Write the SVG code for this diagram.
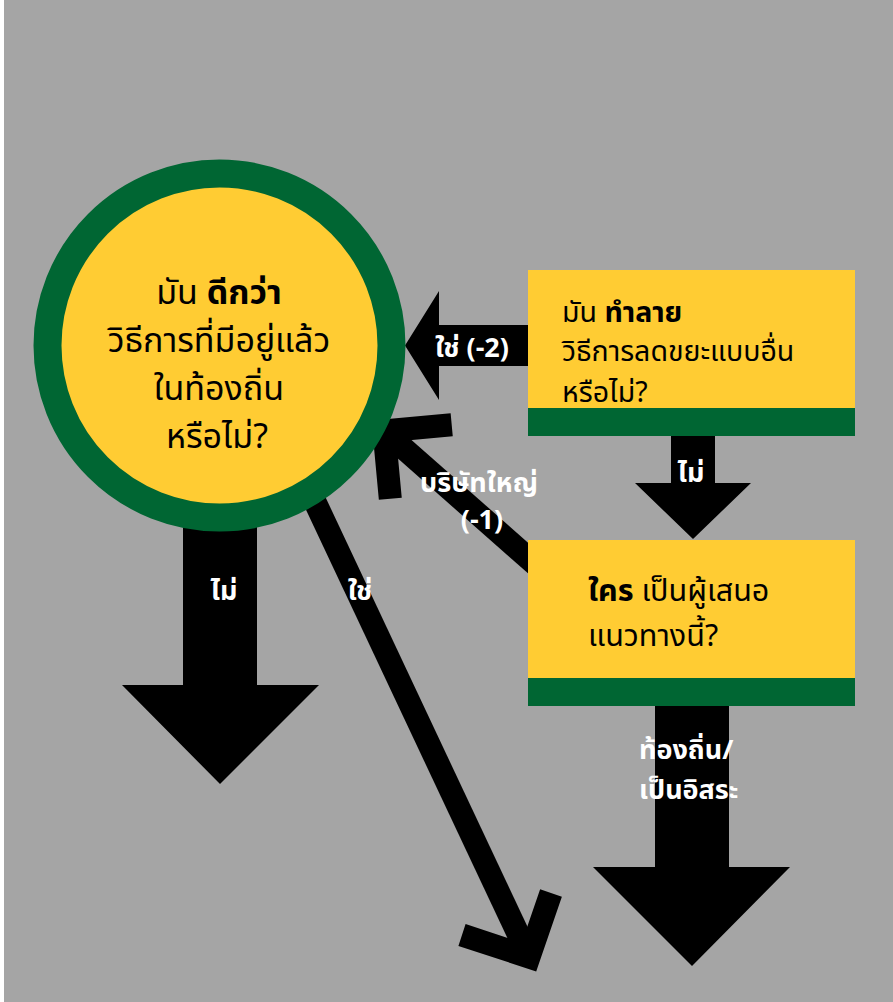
<svg xmlns="http://www.w3.org/2000/svg" width="893" height="1002" viewBox="0 0 893 1002">
<style>
.t{font-family:"Noto Sans Thai","Noto Sans Thai Looped","Noto Sans",sans-serif;fill:#000}
.b{font-weight:bold}
.lbl{font-family:"Noto Sans Thai","Noto Sans Thai Looped","Noto Sans",sans-serif;fill:#fff;font-weight:bold;font-size:27px}
.yel{fill:#FFCC33}
.grn{fill:#006633}
.arr{fill:#000}
.ln{fill:none;stroke:#000;stroke-width:23}
</style>
<rect x="0" y="0" width="893" height="1002" fill="#ffffff"/>
<rect x="4" y="0" width="889" height="1002" fill="#a5a5a5"/>
<g id="connectors">
  <polygon class="arr" points="183,480 257,480 257,685 319,685 220,784 122,685 183,685"/>
  <path class="ln" d="M300,470 L529,957"/>
  <polyline class="ln" points="462,935 529,957 551,893"/>
  <polygon class="arr" points="528,325 439,325 439,291 405,345.5 439,400 439,366 528,366"/>
  <polygon class="arr" points="671,430 715,430 715,483 751,483 693,539 635,483 671,483"/>
  <path class="ln" d="M545,573 L384,431"/>
  <polyline class="ln" points="451.7,424.7 384,431 390.3,498.7"/>
  <polygon class="arr" points="655,700 729,700 729,867 790,867 692,966 593,867 655,867"/>
  <text class="lbl" x="224" y="600" text-anchor="middle">ไม่</text>
  <text class="lbl" x="360" y="600" text-anchor="middle">ใช่</text>
  <text class="lbl" x="472" y="357" text-anchor="middle">ใช่ (-2)</text>
  <text class="lbl" x="691" y="482" text-anchor="middle">ไม่</text>
  <text class="lbl" x="479" y="492" text-anchor="middle">บริษัทใหญ่</text>
  <text class="lbl" x="482" y="529" text-anchor="middle">(-1)</text>
  <text class="lbl" x="639" y="759">ท้องถิ่น/</text>
  <text class="lbl" x="639" y="799">เป็นอิสระ</text>
</g>
<g id="node-circle">
  <circle cx="219.5" cy="345.5" r="172" class="yel" stroke="#006633" stroke-width="28"/>
  <text class="t" font-size="34" text-anchor="middle"><tspan x="219" y="304">มัน <tspan class="b">ดีกว่า</tspan></tspan><tspan x="219" y="352">วิธีการที่มีอยู่แล้ว</tspan><tspan x="219" y="400">ในท้องถิ่น</tspan><tspan x="217" y="448">หรือไม่?</tspan></text>
</g>
<g id="node-destroy">
  <rect x="528" y="270" width="327" height="166" class="yel"/>
  <rect x="528" y="408" width="327" height="28" class="grn"/>
  <text class="t" font-size="28.5"><tspan x="562" y="322">มัน <tspan class="b">ทำลาย</tspan></tspan><tspan x="562" y="361">วิธีการลดขยะแบบอื่น</tspan><tspan x="562" y="402">หรือไม่?</tspan></text>
</g>
<g id="node-who">
  <rect x="528" y="540" width="327" height="166" class="yel"/>
  <rect x="528" y="678" width="327" height="28" class="grn"/>
  <text class="t" font-size="30.5"><tspan x="588" y="601"><tspan class="b">ใคร</tspan> เป็นผู้เสนอ</tspan><tspan x="588" y="646">แนวทางนี้?</tspan></text>
</g>
</svg>
